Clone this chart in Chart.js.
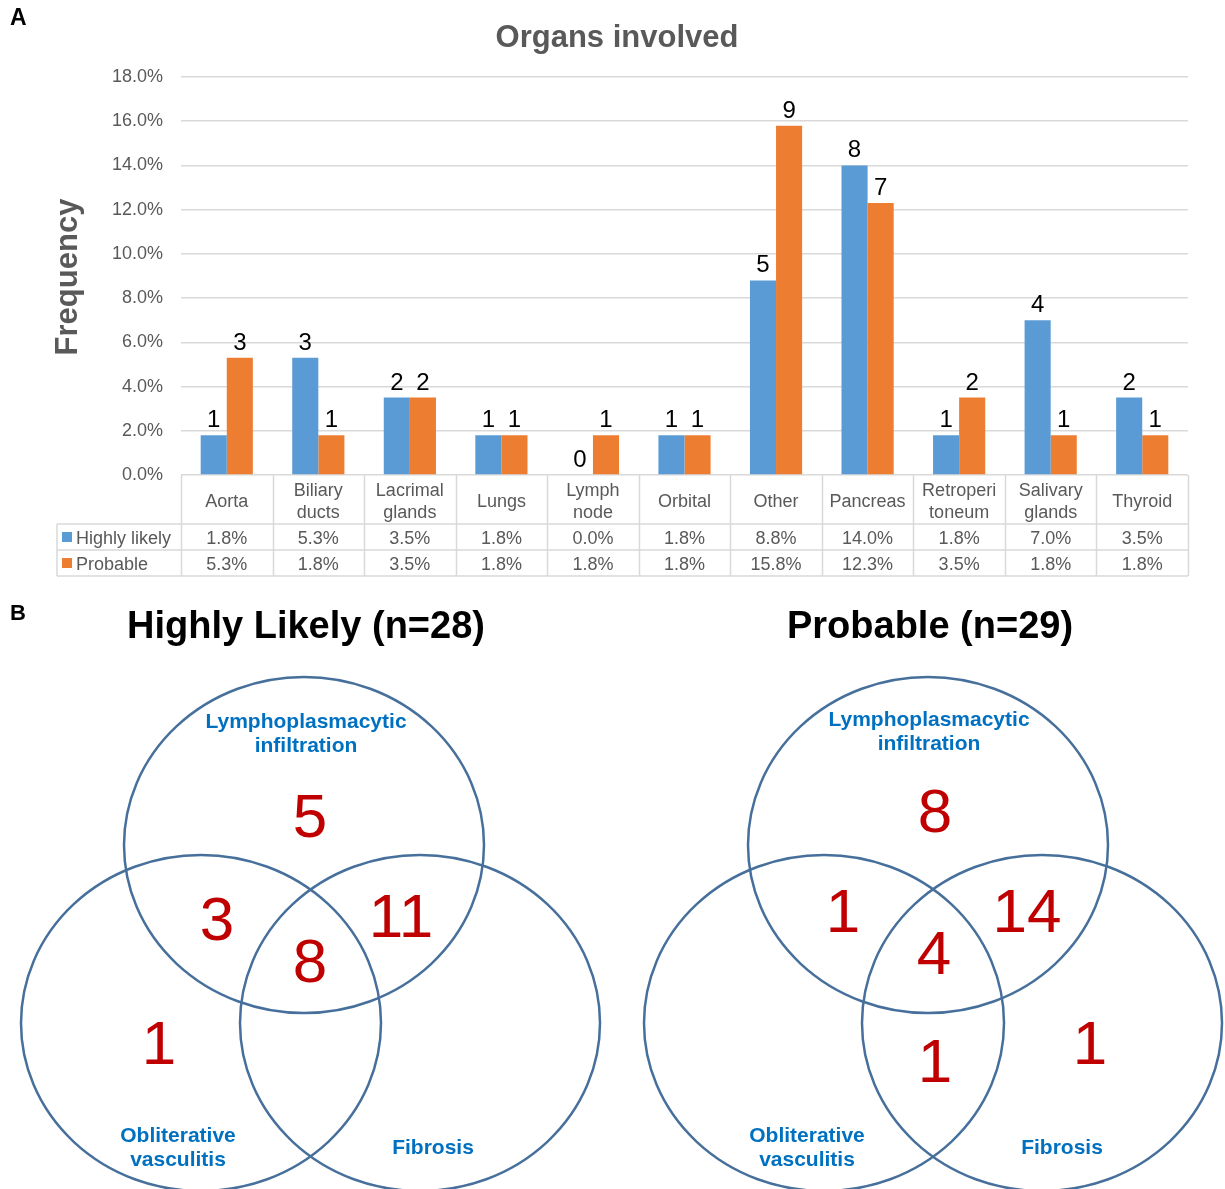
<!DOCTYPE html>
<html>
<head>
<meta charset="utf-8">
<script src="https://cdn.jsdelivr.net/npm/chart.js@4.4.1/dist/chart.umd.min.js"></script>
<style>
  html, body { margin: 0; padding: 0; background: #fff; }
  #wrap { position: relative; width: 1225px; height: 1189px; }
  #top { position: absolute; left: 0; top: 0; }
  #bottom { position: absolute; left: 0; top: 590px; }
</style>
</head>
<body>
<div id="wrap">
  <canvas id="top" width="1225" height="590"></canvas>
  <canvas id="bottom" width="1225" height="599"></canvas>
</div>
<script>
// ---------- Data (panel A) ----------
const categories = [["Aorta"], ["Biliary", "ducts"], ["Lacrimal", "glands"], ["Lungs"], ["Lymph", "node"], ["Orbital"], ["Other"], ["Pancreas"], ["Retroperi", "toneum"], ["Salivary", "glands"], ["Thyroid"]];
const seriesNames = ["Highly likely", "Probable"];
const highlyLikelyPct = [1.8, 5.3, 3.5, 1.8, 0.0, 1.8, 8.8, 14.0, 1.8, 7.0, 3.5];
const probablePct = [5.3, 1.8, 3.5, 1.8, 1.8, 1.8, 15.8, 12.3, 3.5, 1.8, 1.8];
const highlyLikelyCounts = [1, 3, 2, 1, 0, 1, 5, 8, 1, 4, 2];
const probableCounts = [3, 1, 2, 1, 1, 1, 9, 7, 2, 1, 1];
const yTicksMax = 18;
const yTickStep = 2;

// ---------- Data (panel B) ----------
const vennTitles = ["Highly Likely (n=28)", "Probable (n=29)"];
const setNames = [["Lymphoplasmacytic", "infiltration"], ["Obliterative", "vasculitis"], ["Fibrosis"]];
const highlyLikelyRegionCounts = [5, 3, 11, 8, 1];   // L, L∩O, L∩F, L∩O∩F, O
const probableRegionCounts = [8, 1, 14, 4, 1, 1];    // L, L∩O, L∩F, L∩O∩F, O∩F, F

// ---------- Layout (not data) ----------
const FONT = "'Liberation Sans', Arial, sans-serif";
const GREY = "#595959";
const GRID = "#d9d9d9";
const BLUE = "#5B9BD5";
const ORANGE = "#ED7D31";

const tablePlugin = {
  id: 'tablePlugin',
  afterDraw(chart) {
    const ctx = chart.ctx;
    const area = chart.chartArea;
    const xs = chart.scales.x;
    const n = categories.length;
    const catW = (area.right - area.left) / n;
    const yTop = area.bottom;
    const yRow1 = yTop + 49, yRow2 = yRow1 + 26, yRow3 = yRow2 + 26;
    const leftCol = 57;
    ctx.save();
    ctx.strokeStyle = GRID;
    ctx.lineWidth = 1.5;
    ctx.beginPath();
    [yRow1, yRow2, yRow3].forEach(y => { ctx.moveTo(leftCol, y); ctx.lineTo(area.right, y); });
    for (let i = 0; i <= n; i++) {
      const bx = Math.round(area.left + i * catW) + 0.5;
      ctx.moveTo(bx, yTop); ctx.lineTo(bx, yRow3);
    }
    ctx.moveTo(leftCol, yRow1); ctx.lineTo(leftCol, yRow3);
    ctx.stroke();

    ctx.fillStyle = GREY;
    ctx.font = "18px " + FONT;
    ctx.textAlign = 'center';
    ctx.textBaseline = 'middle';
    categories.forEach((lines, i) => {
      const cx = xs.getPixelForValue(i);
      const mid = (yTop + yRow1) / 2 + 3;
      if (lines.length === 1) {
        ctx.fillText(lines[0], cx, mid);
      } else {
        ctx.fillText(lines[0], cx, mid - 11);
        ctx.fillText(lines[1], cx, mid + 11);
      }
      ctx.fillText(highlyLikelyPct[i].toFixed(1) + '%', cx, (yRow1 + yRow2) / 2 + 2);
      ctx.fillText(probablePct[i].toFixed(1) + '%', cx, (yRow2 + yRow3) / 2 + 2);
    });
    // legend keys
    ctx.textAlign = 'left';
    [[BLUE, seriesNames[0], (yRow1 + yRow2) / 2], [ORANGE, seriesNames[1], (yRow2 + yRow3) / 2]].forEach(([c, t, y]) => {
      ctx.fillStyle = c;
      ctx.fillRect(62, y - 5, 10, 10);
      ctx.fillStyle = GREY;
      ctx.fillText(t, 76, y + 2);
    });

    // bar count labels
    ctx.fillStyle = '#000';
    ctx.font = "24px " + FONT;
    ctx.textAlign = 'center';
    ctx.textBaseline = 'alphabetic';
    const counts = [highlyLikelyCounts, probableCounts];
    chart.data.datasets.forEach((ds, di) => {
      const meta = chart.getDatasetMeta(di);
      meta.data.forEach((el, i) => {
        ctx.fillText(String(counts[di][i]), el.x, el.y - 8);
      });
    });

    // titles
    ctx.fillStyle = '#000';
    ctx.font = "bold 23px " + FONT;
    ctx.textAlign = 'left';
    ctx.textBaseline = 'middle';
    ctx.fillText('A', 10, 19);
    ctx.fillStyle = GREY;
    ctx.font = "bold 31px " + FONT;
    ctx.textAlign = 'center';
    ctx.fillText('Organs involved', 617, 38);
    ctx.save();
    ctx.translate(68, 277);
    ctx.rotate(-Math.PI / 2);
    ctx.font = "bold 31px " + FONT;
    ctx.fillText('Frequency', 0, 0);
    ctx.restore();
    ctx.restore();
  }
};

new Chart(document.getElementById('top'), {
  type: 'bar',
  data: {
    labels: categories.map(c => c.join(' ')),
    datasets: [
      { label: seriesNames[0], data: highlyLikelyPct, backgroundColor: BLUE },
      { label: seriesNames[1], data: probablePct, backgroundColor: ORANGE }
    ]
  },
  options: {
    responsive: false,
    animation: false,
    layout: { padding: { top: 77, right: 37, bottom: 115, left: 0 } },
    datasets: { bar: { categoryPercentage: 0.57, barPercentage: 1.0 } },
    plugins: { legend: { display: false }, tooltip: { enabled: false }, title: { display: false } },
    scales: {
      x: { display: false },
      y: {
        min: 0, max: yTicksMax,
        border: { display: false },
        grid: { color: GRID, lineWidth: 1.5, drawTicks: false },
        ticks: {
          stepSize: yTickStep, padding: 18, color: GREY,
          font: { family: FONT, size: 18 },
          callback: v => v.toFixed(1) + '%'
        },
        afterFit(scale) { scale.width = 181; }
      }
    }
  },
  plugins: [tablePlugin]
});

// ---------- Panel B: Venn diagrams ----------
const vennCircles = [
  // [cx, cy, rx, ry] in figure coordinates
  [[304, 845, 180, 168], [201, 1023, 180, 168], [420, 1023, 180, 168]],
  [[928, 845, 180, 168], [824, 1023, 180, 168], [1042, 1023, 180, 168]]
];
const regionPositions = [
  [[310, 815], [217, 918], [401, 915], [310, 960], [159, 1042]],
  [[935, 810], [843, 910], [1027, 910], [934, 952], [935, 1060], [1090, 1042]]
];
const titlePositions = [[306, 628], [930, 628]];
const setLabelPositions = [
  [[306, 722], [178, 1136], [433, 1148]],
  [[929, 720], [807, 1136], [1062, 1148]]
];

const vennPlugin = {
  id: 'vennPlugin',
  afterDatasetsDraw(chart) {
    const ctx = chart.ctx;
    const xs = chart.scales.x, ys = chart.scales.y;
    ctx.save();
    // circles
    ctx.strokeStyle = '#46709B';
    ctx.lineWidth = 2.5;
    vennCircles.forEach(set => set.forEach(([cx, cy, rx, ry]) => {
      const px = xs.getPixelForValue(cx), py = ys.getPixelForValue(cy);
      const prx = xs.getPixelForValue(cx + rx) - px;
      const pry = Math.abs(ys.getPixelForValue(cy + ry) - py);
      ctx.beginPath();
      ctx.ellipse(px, py, prx, pry, 0, 0, Math.PI * 2);
      ctx.stroke();
    }));
    // region counts
    ctx.fillStyle = '#C00000';
    ctx.font = "62px " + FONT;
    ctx.textAlign = 'center';
    ctx.textBaseline = 'alphabetic';
    const counts = [highlyLikelyRegionCounts, probableRegionCounts];
    chart.data.datasets.forEach((ds, di) => {
      chart.getDatasetMeta(di).data.forEach((el, i) => {
        ctx.fillText(String(counts[di][i]), el.x, el.y + 62 * 0.36);
      });
    });
    // set labels
    ctx.fillStyle = '#0070C0';
    ctx.font = "bold 21px " + FONT;
    ctx.textBaseline = 'middle';
    setLabelPositions.forEach(list => list.forEach((pos, si) => {
      const lines = setNames[si];
      const px = xs.getPixelForValue(pos[0]);
      lines.forEach((t, li) => {
        ctx.fillText(t, px, ys.getPixelForValue(pos[1] + li * 24));
      });
    }));
    // titles
    ctx.fillStyle = '#000';
    ctx.font = "bold 38px " + FONT;
    titlePositions.forEach((p, i) => {
      ctx.fillText(vennTitles[i], xs.getPixelForValue(p[0]), ys.getPixelForValue(p[1]));
    });
    ctx.font = "bold 22px " + FONT;
    ctx.textAlign = 'left';
    ctx.fillText('B', 10, ys.getPixelForValue(614));
    ctx.restore();
  }
};

new Chart(document.getElementById('bottom'), {
  type: 'scatter',
  data: {
    datasets: [
      { label: vennTitles[0], data: regionPositions[0].map(p => ({ x: p[0], y: p[1] })), pointRadius: 0 },
      { label: vennTitles[1], data: regionPositions[1].map(p => ({ x: p[0], y: p[1] })), pointRadius: 0 }
    ]
  },
  options: {
    responsive: false,
    animation: false,
    layout: { padding: 0 },
    plugins: { legend: { display: false }, tooltip: { enabled: false } },
    scales: {
      x: { type: 'linear', min: 0, max: 1225, display: false },
      y: { type: 'linear', min: 590, max: 1189, reverse: true, display: false }
    }
  },
  plugins: [vennPlugin]
});
</script>
</body>
</html>
